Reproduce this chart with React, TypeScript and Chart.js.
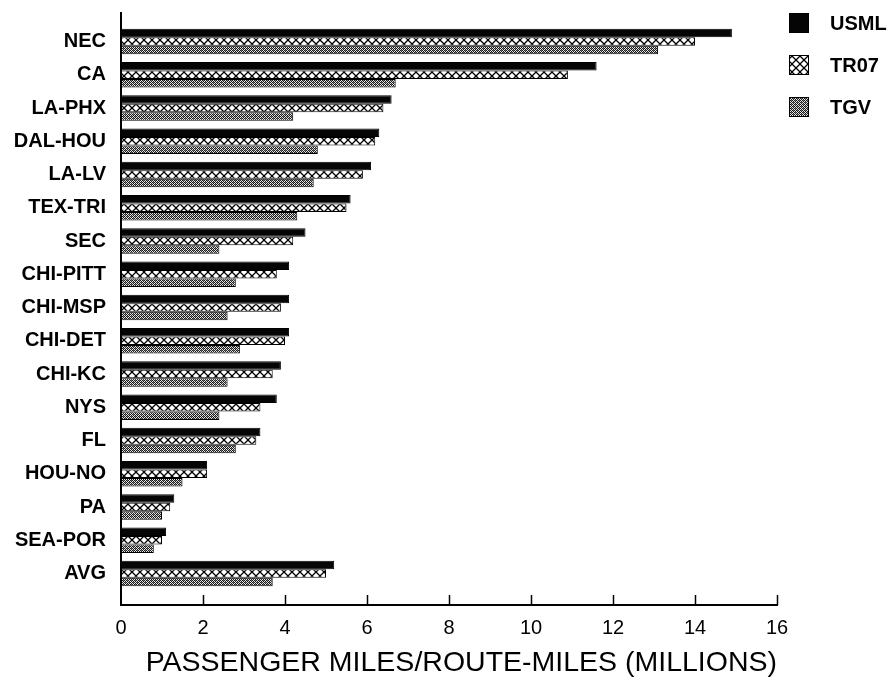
import React, { useEffect, useRef } from 'react';
import { Chart, registerables } from 'chart.js';

Chart.register(...registerables);

// Corridors, top to bottom
const categories = [
  'NEC', 'CA', 'LA-PHX', 'DAL-HOU', 'LA-LV', 'TEX-TRI', 'SEC', 'CHI-PITT',
  'CHI-MSP', 'CHI-DET', 'CHI-KC', 'NYS', 'FL', 'HOU-NO', 'PA', 'SEA-POR', 'AVG',
];

// Passenger miles per route-mile (millions) by technology
const usml = [14.9, 11.6, 6.6, 6.3, 6.1, 5.6, 4.5, 4.1, 4.1, 4.1, 3.9, 3.8, 3.4, 2.1, 1.3, 1.1, 5.2];
const tr07 = [14.0, 10.9, 6.4, 6.2, 5.9, 5.5, 4.2, 3.8, 3.9, 4.0, 3.7, 3.4, 3.3, 2.1, 1.2, 1.0, 5.0];
const tgv = [13.1, 6.7, 4.2, 4.8, 4.7, 4.3, 2.4, 2.8, 2.6, 2.9, 2.6, 2.4, 2.8, 1.5, 1.0, 0.8, 3.7];

const seriesNames = ['USML', 'TR07', 'TGV'];
const xTicks = [0, 2, 4, 6, 8, 10, 12, 14, 16];
const xTitle = 'PASSENGER MILES/ROUTE-MILES (MILLIONS)';

const FONT = "'Liberation Sans', Arial, Helvetica, sans-serif";

function makeTile(size: number, draw: (c: CanvasRenderingContext2D) => void): CanvasPattern | string {
  const cv = document.createElement('canvas');
  cv.width = size;
  cv.height = size;
  const c = cv.getContext('2d');
  if (!c) return '#888';
  draw(c);
  const p = c.createPattern(cv, 'repeat');
  return p || '#888';
}

// open diagonal cross-hatch
function crossHatch() {
  return makeTile(8, (c) => {
    c.fillStyle = '#fff';
    c.fillRect(0, 0, 8, 8);
    c.strokeStyle = '#000';
    c.lineWidth = 1.3;
    c.beginPath();
    c.moveTo(-1, -1);
    c.lineTo(9, 9);
    c.moveTo(9, -1);
    c.lineTo(-1, 9);
    c.stroke();
  });
}

// fine grey stipple
function fineStipple() {
  return makeTile(4, (c) => {
    c.fillStyle = '#e6e6e6';
    c.fillRect(0, 0, 4, 4);
    c.fillStyle = '#1a1a1a';
    for (let y = 0; y < 4; y++) {
      for (let x = 0; x < 4; x++) {
        if ((x + y) % 2 === 0) c.fillRect(x, y, 1, 1);
      }
    }
    c.fillStyle = '#777';
    c.fillRect(1, 2, 1, 1);
    c.fillRect(3, 0, 1, 1);
  });
}

// Inward tick marks along the bottom axis
const innerTicks = {
  id: 'innerTicks',
  afterDraw(chart: any) {
    const { ctx, chartArea } = chart;
    const xs = chart.scales.x;
    ctx.save();
    ctx.strokeStyle = '#000';
    ctx.lineWidth = 1.5;
    xTicks.forEach((v) => {
      if (v === 0) return;
      const px = Math.round(xs.getPixelForValue(v)) + 0.5;
      ctx.beginPath();
      ctx.moveTo(px, chartArea.bottom);
      ctx.lineTo(px, chartArea.bottom - 10);
      ctx.stroke();
    });
    ctx.restore();
  },
};

// Series key in the top-right corner
const seriesKey = {
  id: 'seriesKey',
  afterDraw(chart: any) {
    const { ctx } = chart;
    ctx.save();
    chart.data.datasets.forEach((ds: any, i: number) => {
      const y = 13 + i * 42;
      ctx.fillStyle = ds.backgroundColor;
      ctx.fillRect(789, y, 20, 20);
      ctx.strokeStyle = '#000';
      ctx.lineWidth = 1;
      ctx.strokeRect(789.5, y + 0.5, 19, 19);
      ctx.fillStyle = '#000';
      ctx.font = `bold 20px ${FONT}`;
      ctx.textAlign = 'left';
      ctx.textBaseline = 'middle';
      ctx.fillText(ds.label, 830, y + 11);
    });
    ctx.restore();
  },
};

export default function App() {
  const ref = useRef<HTMLCanvasElement | null>(null);

  useEffect(() => {
    if (!ref.current) return;
    const fills = ['#050505', crossHatch(), fineStipple()];
    const values = [usml, tr07, tgv];

    const chart = new Chart(ref.current, {
      type: 'bar',
      data: {
        datasets: seriesNames.map((name, s) => ({
          label: name,
          data: categories.map((_, i) => ({ x: values[s][i], y: i })),
          backgroundColor: fills[s] as any,
          borderColor: '#000',
          borderWidth: 1,
          borderSkipped: false,
          categoryPercentage: 0.77,
          barPercentage: 1,
        })),
      },
      options: {
        animation: false,
        responsive: false,
        indexAxis: 'y',
        layout: { padding: { left: 0, right: 114, top: 13, bottom: 0 } },
        plugins: {
          legend: { display: false },
          tooltip: { enabled: false },
        },
        scales: {
          x: {
            type: 'linear',
            position: 'bottom',
            min: 0,
            max: 16,
            grid: { display: false, drawTicks: false },
            border: { display: true, color: '#000', width: 2 },
            afterBuildTicks: (s: any) => {
              s.ticks = xTicks.map((v) => ({ value: v }));
            },
            ticks: {
              color: '#000',
              padding: 11,
              autoSkip: false,
              maxRotation: 0,
              font: { family: FONT, size: 20 },
            },
            title: {
              display: true,
              text: xTitle,
              align: 'end',
              color: '#000',
              font: { family: FONT, size: 28.5, lineHeight: 1 },
              padding: { top: 0, bottom: 0 },
            },
            afterFit: (s: any) => {
              s.height = 72;
            },
          },
          y: {
            type: 'linear',
            position: 'left',
            reverse: true,
            offset: false,
            min: -0.857,
            max: 16.947,
            grid: { display: false, drawTicks: false, offset: false },
            border: { display: true, color: '#000', width: 2 },
            afterBuildTicks: (s: any) => {
              s.ticks = categories.map((_, i) => ({ value: i }));
            },
            ticks: {
              color: '#000',
              padding: 15,
              autoSkip: false,
              font: { family: FONT, size: 20, weight: 'bold' },
              callback: (v: any) => categories[Math.round(Number(v))] ?? '',
            },
            afterFit: (s: any) => {
              s.width = 121;
              s.paddingTop = 0;
              s.paddingBottom = 0;
            },
          },
        },
      },
      plugins: [innerTicks, seriesKey],
    });

    return () => chart.destroy();
  }, []);

  return (
    <div style={{ position: 'fixed', left: 0, top: 0, width: 891, height: 677, background: '#fff' }}>
      <canvas ref={ref} width={891} height={677} style={{ display: 'block' }} />
    </div>
  );
}
